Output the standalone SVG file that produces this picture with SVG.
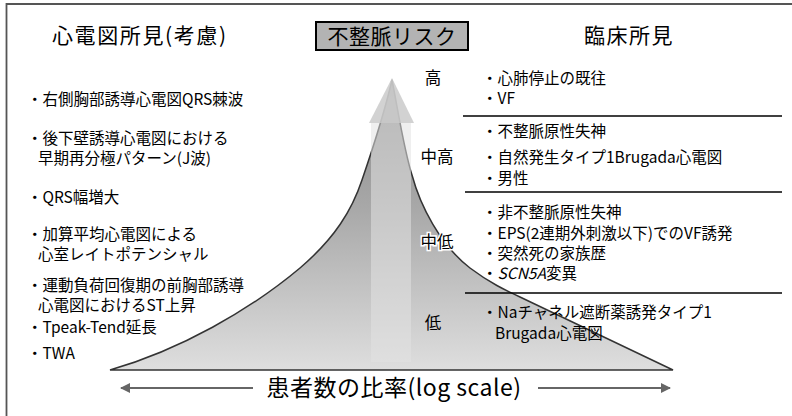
<svg xmlns="http://www.w3.org/2000/svg" width="792" height="416" viewBox="0 0 792 416">
<style>
text{font-family:"Noto Sans CJK JP","Noto Sans CJK SC",sans-serif;fill:#000;}
.t{font-size:21px;}
.i{font-size:15.5px;}
.r{font-size:16.5px;text-anchor:middle;}
.sep{stroke:#000;stroke-width:1.5;}
.ax{stroke:#666;stroke-width:2;fill:none;}
</style>
<defs>
<linearGradient id="g" x1="0" y1="80" x2="0" y2="370" gradientUnits="userSpaceOnUse">
<stop offset="0" stop-color="#858585"/>
<stop offset="0.45" stop-color="#a9a9a9"/>
<stop offset="1" stop-color="#dedede"/>
</linearGradient>
<marker id="ah" viewBox="0 0 10 10" refX="9" refY="5" markerWidth="5" markerHeight="5" orient="auto">
<path d="M0,0 L10,5 L0,10 Z" fill="#666"/>
</marker>
</defs>
<path d="M6.5,416 V4 H792" fill="none" stroke="#555" stroke-width="1.8"/>
<g id="pyramid">
<path d="M110,370 C180,350 250,310 300,268 C335,238 352,210 362,180 C374,145 385,110 392,80 C398,110 404,150 412,175 C420,205 440,245 470,268 C490,283 505,290 520,297 L673,370 Z" fill="url(#g)" stroke="#333" stroke-width="1.5"/>
<rect x="371" y="123" width="40" height="239" fill="#e2e2e2" opacity="0.55"/>
<path d="M392,78 L414,123 L369,123 Z" fill="#cdcdcd" opacity="0.9"/>
</g>
<g id="title-left"><text class="t" x="52" y="43" font-size="22" letter-spacing="1.6">心電図所見(考慮)</text></g>
<g id="title-center">
<rect x="316" y="22" width="152" height="28" fill="#b3b3b3" stroke="#000" stroke-width="2"/>
<text class="t" x="392" y="44" text-anchor="middle" font-size="23" letter-spacing="0.5">不整脈リスク</text>
</g>
<g id="title-right"><text class="t" x="629" y="43" text-anchor="middle" font-size="23" letter-spacing="1.5">臨床所見</text></g>
<g id="ecg-list">
<text class="i" x="27" y="105">・右側胸部誘導心電図QRS棘波</text>
<text class="i" x="27" y="144">・後下壁誘導心電図における</text>
<text class="i" x="38" y="164">早期再分極パターン(J波)</text>
<text class="i" x="27" y="203">・QRS幅増大</text>
<text class="i" x="27" y="240">・加算平均心電図による</text>
<text class="i" x="38" y="260">心室レイトポテンシャル</text>
<text class="i" x="27" y="291">・運動負荷回復期の前胸部誘導</text>
<text class="i" x="38" y="311">心電図におけるST上昇</text>
<text class="i" x="27" y="333">・Tpeak-Tend延長</text>
<text class="i" x="27" y="359">・TWA</text>
</g>
<g id="risk-high">
<text class="r" x="433" y="84">高</text>
<text class="i" x="482" y="84">・心肺停止の既往</text>
<text class="i" x="482" y="104">・VF</text>
</g>
<g id="risk-midhigh">
<text class="r" x="437" y="163">中高</text>
<text class="i" x="482" y="137">・不整脈原性失神</text>
<text class="i" x="482" y="163">・自然発生タイプ1Brugada心電図</text>
<text class="i" x="482" y="184">・男性</text>
</g>
<g id="risk-midlow">
<text class="r" x="437" y="248" stroke="#fff" stroke-width="3" paint-order="stroke">中低</text>
<text class="i" x="482" y="218">・非不整脈原性失神</text>
<text class="i" x="482" y="239">・EPS(2連期外刺激以下)でのVF誘発</text>
<text class="i" x="482" y="259">・突然死の家族歴</text>
<text class="i" x="482" y="279">・<tspan font-style="italic">SCN5A</tspan>変異</text>
</g>
<g id="risk-low">
<text class="r" x="433" y="329">低</text>
<text class="i" x="482" y="318">・Naチャネル遮断薬誘発タイプ1</text>
<text class="i" x="495" y="339">Brugada心電図</text>
</g>
<g id="connectors">
<line class="sep" x1="463" y1="116" x2="782" y2="116"/>
<line class="sep" x1="465" y1="192" x2="782" y2="192"/>
<line class="sep" x1="465" y1="293" x2="782" y2="293"/>
<line class="ax" x1="253" y1="388" x2="121" y2="388" marker-end="url(#ah)"/>
<line class="ax" x1="538" y1="388" x2="670" y2="388" marker-end="url(#ah)"/>
</g>
<g id="axis-label"><text x="394" y="396" text-anchor="middle" font-size="23" letter-spacing="0.5">患者数の比率(log scale)</text></g>
</svg>
